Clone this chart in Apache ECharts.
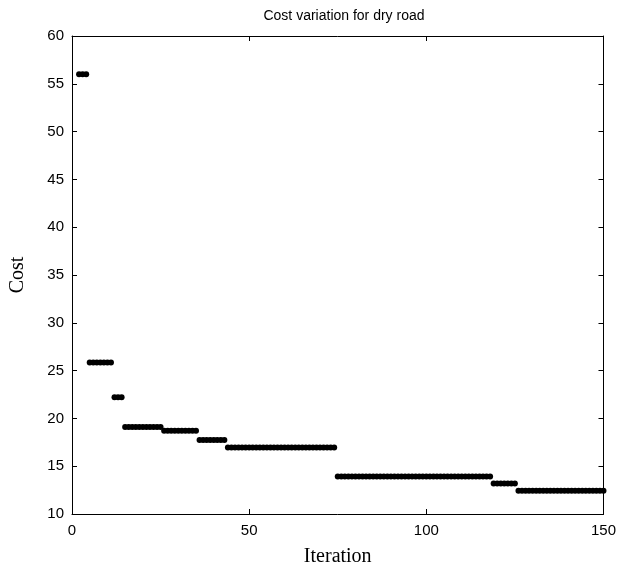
<!DOCTYPE html>
<html>
<head>
<meta charset="utf-8">
<title>Cost variation for dry road</title>
<script src="https://cdn.jsdelivr.net/npm/echarts@6/dist/echarts.min.js"></script>
<style>
  html, body { margin: 0; padding: 0; background: #fff; }
  #chart { width: 619px; height: 572px; }
</style>
</head>
<body>
<div id="chart"></div>
<script>
// Best cost found at each iteration (iterations 2 .. 150)
const firstIteration = 2;
const costs = [
  56, 56, 56,
  25.85, 25.85, 25.85, 25.85, 25.85, 25.85, 25.85,
  22.2, 22.2, 22.2,
  19.1, 19.1, 19.1, 19.1, 19.1, 19.1, 19.1, 19.1, 19.1, 19.1, 19.1,
  18.7, 18.7, 18.7, 18.7, 18.7, 18.7, 18.7, 18.7, 18.7, 18.7,
  17.75, 17.75, 17.75, 17.75, 17.75, 17.75, 17.75, 17.75,
  16.95, 16.95, 16.95, 16.95, 16.95, 16.95, 16.95, 16.95, 16.95, 16.95,
  16.95, 16.95, 16.95, 16.95, 16.95, 16.95, 16.95, 16.95, 16.95, 16.95,
  16.95, 16.95, 16.95, 16.95, 16.95, 16.95, 16.95, 16.95, 16.95, 16.95,
  16.95,
  13.93, 13.93, 13.93, 13.93, 13.93, 13.93, 13.93, 13.93, 13.93, 13.93, 13.93,
  13.93, 13.93, 13.93, 13.93, 13.93, 13.93, 13.93, 13.93, 13.93, 13.93, 13.93,
  13.93, 13.93, 13.93, 13.93, 13.93, 13.93, 13.93, 13.93, 13.93, 13.93, 13.93,
  13.93, 13.93, 13.93, 13.93, 13.93, 13.93, 13.93, 13.93, 13.93, 13.93, 13.93,
  13.2, 13.2, 13.2, 13.2, 13.2, 13.2, 13.2,
  12.43, 12.43, 12.43, 12.43, 12.43, 12.43, 12.43, 12.43, 12.43, 12.43,
  12.43, 12.43, 12.43, 12.43, 12.43, 12.43, 12.43, 12.43, 12.43, 12.43,
  12.43, 12.43, 12.43, 12.43, 12.43
];

const xTicks = { min: 0, max: 150, interval: 50 };
const yTicks = { min: 10, max: 60, interval: 5 };

const points = costs.map((c, i) => [firstIteration + i, c]);

const tickFont = { color: '#000', fontSize: 15, fontFamily: '"Liberation Sans", Arial, sans-serif' };
const labelFont = { color: '#000', fontSize: 20, fontFamily: '"Liberation Serif", "Times New Roman", serif' };
const black = { color: '#000', width: 1 };

function axisBase(extra) {
  return Object.assign({
    type: 'value',
    axisLine: { show: true, onZero: false, lineStyle: black },
    axisTick: { show: true, inside: true, length: 5, lineStyle: black },
    splitLine: { show: false }
  }, extra);
}

const chart = echarts.init(document.getElementById('chart'), null, { renderer: 'canvas' });
chart.setOption({
  animation: false,
  backgroundColor: '#fff',
  title: {
    text: 'Cost variation for dry road',
    left: 339,
    top: 4,
    textAlign: 'center',
    textStyle: { color: '#000', fontSize: 14, fontWeight: 'normal', fontFamily: '"Liberation Sans", Arial, sans-serif' }
  },
  grid: { left: 71, right: 13, top: 36, bottom: 58, containLabel: false },
  xAxis: [
    axisBase(Object.assign({}, xTicks, {
      position: 'bottom',
      axisLabel: Object.assign({ margin: 9 }, tickFont),
      name: 'Iteration', nameLocation: 'middle', nameGap: 33, nameTextStyle: labelFont
    })),
    axisBase(Object.assign({}, xTicks, { position: 'top', axisLabel: { show: false } }))
  ],
  yAxis: [
    axisBase(Object.assign({}, yTicks, {
      position: 'left',
      axisLabel: Object.assign({ margin: 8 }, tickFont),
      name: 'Cost', nameLocation: 'middle', nameGap: 44, nameTextStyle: labelFont
    })),
    axisBase(Object.assign({}, yTicks, { position: 'right', axisLabel: { show: false } }))
  ],
  series: [{
    type: 'scatter',
    xAxisIndex: 0,
    yAxisIndex: 0,
    data: points,
    symbol: 'circle',
    symbolSize: 6,
    itemStyle: { color: '#000', opacity: 1 },
    silent: true
  }]
});
</script>
</body>
</html>
